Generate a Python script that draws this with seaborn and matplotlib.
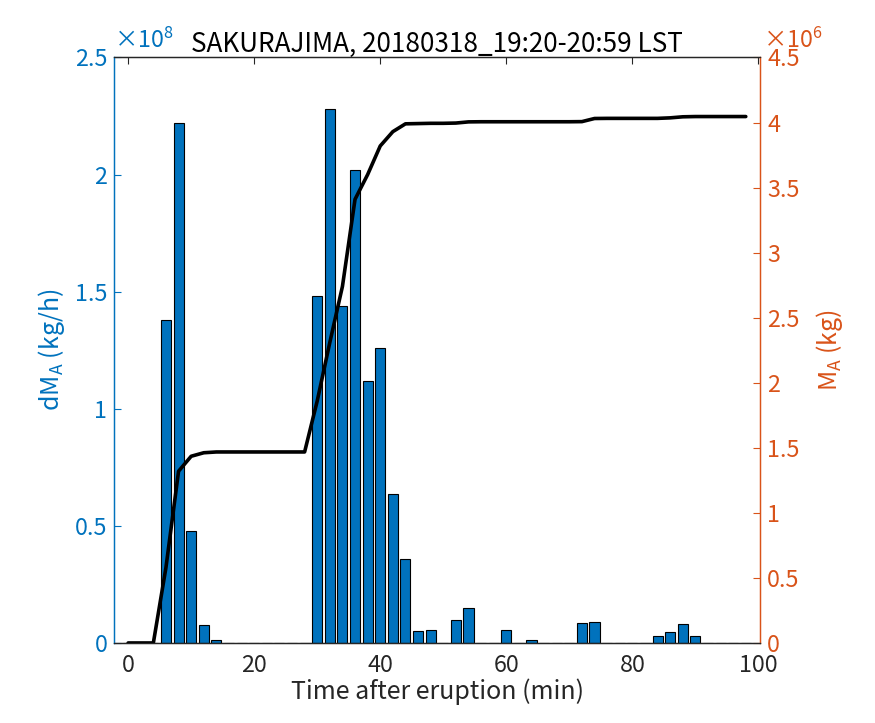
import matplotlib
matplotlib.use('Agg')
import matplotlib.pyplot as plt
import seaborn as sns
import pandas as pd

# time after eruption (min), 2-minute bins
minutes = list(range(0, 100, 2))

# ash discharge rate dM_A, in units of 1e8 kg/h
dm_rate = [0, 0, 0, 1.38, 2.22, 0.48, 0.075, 0.012, 0, 0,
           0, 0, 0, 0, 0, 1.48, 2.28, 1.44, 2.02, 1.12,
           1.26, 0.636, 0.36, 0.049, 0.054, 0, 0.098, 0.15, 0, 0,
           0.054, 0, 0.011, 0, 0, 0, 0.084, 0.088, 0, 0,
           0, 0, 0.028, 0.047, 0.080, 0.031, 0, 0, 0, 0]

# cumulative ash mass M_A, in units of 1e6 kg
mass_cum = [0, 0, 0, 0.58, 1.32, 1.435, 1.462, 1.468, 1.468, 1.468,
            1.468, 1.468, 1.468, 1.468, 1.468, 1.86, 2.31, 2.74, 3.41, 3.60,
            3.82, 3.93, 3.99, 3.992, 3.994, 3.994, 3.996, 4.005, 4.006, 4.006,
            4.006, 4.006, 4.006, 4.006, 4.006, 4.006, 4.007, 4.031, 4.032, 4.032,
            4.032, 4.032, 4.032, 4.036, 4.044, 4.046, 4.046, 4.046, 4.046, 4.046]

title = 'SAKURAJIMA, 20180318_19:20-20:59 LST'
BLUE = '#0072BD'
ORANGE = '#D95319'
DARK = '#262626'

df = pd.DataFrame({'t': minutes, 'dm': dm_rate, 'm': mass_cum})

sns.set_style('white')
plt.rcParams['font.family'] = ['Noto Sans CJK JP', 'DejaVu Sans']
plt.rcParams['mathtext.fontset'] = 'custom'
plt.rcParams['mathtext.rm'] = 'Noto Sans CJK JP'
plt.rcParams['mathtext.it'] = 'Noto Sans CJK JP'

TICK_FS = 16.8
LABEL_FS = 18

fig = plt.figure(figsize=(8.75, 7.23), dpi=100)
ax = fig.add_axes([0.1306, 0.1107, 0.7383, 0.8098])

sns.barplot(data=df, x='t', y='dm', native_scale=True, width=0.8,
            color=BLUE, saturation=1, edgecolor='black', linewidth=0.8, ax=ax)
ax.set_xlim(-2.2, 100.3)
ax.set_ylim(0, 2.5)
ax.set_xticks(range(0, 101, 20))
ax.set_yticks([0, 0.5, 1, 1.5, 2, 2.5])
ax.set_yticklabels(['0', '0.5', '1', '1.5', '2', '2.5'])
ax.set_xlabel('Time after eruption (min)', color=DARK, fontsize=LABEL_FS, labelpad=1)
ax.set_ylabel(r'dM$_\mathrm{A}$ (kg/h)', color=BLUE, fontsize=LABEL_FS, labelpad=6)
ax.set_title(title, pad=4, color='black', fontsize=18.8)

ax2 = ax.twinx()
sns.lineplot(data=df, x='t', y='m', color='black', linewidth=2.6, ax=ax2)
ax2.set_ylim(0, 4.5)
ax2.set_yticks([0, 0.5, 1, 1.5, 2, 2.5, 3, 3.5, 4, 4.5])
ax2.set_yticklabels(['0', '0.5', '1', '1.5', '2', '2.5', '3', '3.5', '4', '4.5'])
ax2.set_ylabel(r'M$_\mathrm{A}$ (kg)', color=ORANGE, fontsize=LABEL_FS, labelpad=10)
ax2.set_xlim(-2.2, 100.3)

for a in (ax, ax2):
    for s in a.spines.values():
        s.set_visible(True)
        s.set_linewidth(0.9)
        s.set_color(DARK)
ax.spines['left'].set_color(BLUE)
ax2.spines['left'].set_color(BLUE)
ax2.spines['right'].set_color(ORANGE)
ax.spines['right'].set_color(ORANGE)

ax.tick_params(axis='x', direction='in', length=5, width=0.8, top=True,
               colors=DARK, labelsize=TICK_FS, pad=8)
ax.tick_params(axis='y', direction='in', length=5, width=0.8, left=True, right=False,
               colors=BLUE, labelsize=TICK_FS, pad=5)
ax2.tick_params(axis='y', direction='in', length=5, width=0.8, right=True,
                colors=ORANGE, labelsize=TICK_FS, pad=5)

ax.text(0.0, 1.008, r'×10$^{8}$', transform=ax.transAxes, color=BLUE,
        fontsize=TICK_FS, ha='left', va='bottom')
ax2.text(1.004, 1.008, r'×10$^{6}$', transform=ax2.transAxes, color=ORANGE,
         fontsize=TICK_FS, ha='left', va='bottom')

fig.savefig('out.png', dpi=100)
